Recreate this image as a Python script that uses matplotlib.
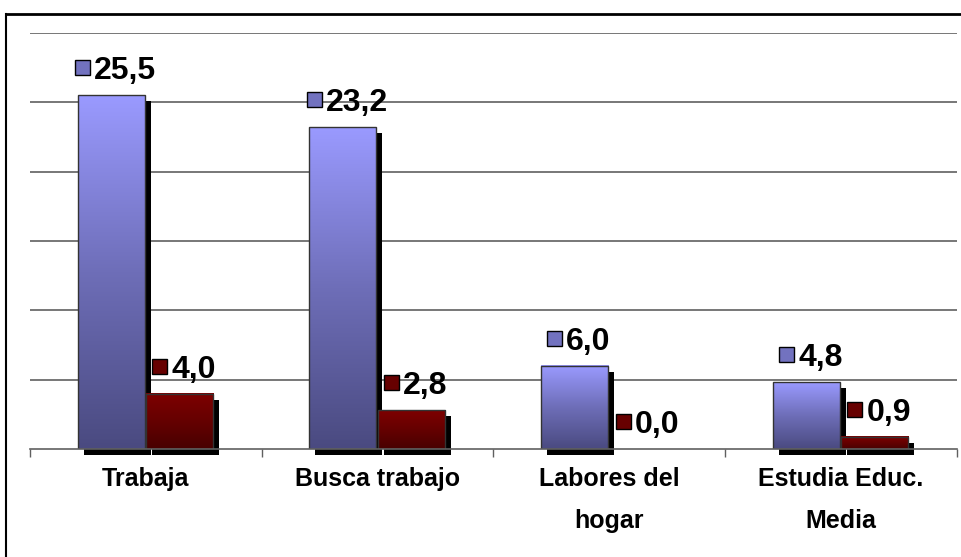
import numpy as np
import matplotlib
matplotlib.use("Agg")
import matplotlib.pyplot as plt
import matplotlib.transforms as mtransforms
from matplotlib.patches import Rectangle
from matplotlib.colors import LinearSegmentedColormap

# data
categories = ["Trabaja", "Busca trabajo", "Labores del\nhogar", "Estudia Educ.\nMedia"]
serie_a = [25.5, 23.2, 6.0, 4.8]
serie_b = [4.0, 2.8, 0.0, 0.9]

blue_cmap = LinearSegmentedColormap.from_list("b", ["#4a4a80", "#6e6eb8", "#9a9aff"])
red_cmap = LinearSegmentedColormap.from_list("r", ["#480000", "#650000", "#7e0000"])

plt.rcParams['font.family'] = ['Liberation Sans', 'DejaVu Sans']

fig = plt.figure(figsize=(9.62, 5.57), dpi=100)
W, H = 962.0, 557.0

# outer frame (open on the right/bottom, like the cropped original)
fig.add_artist(plt.Line2D([6 / W, 6 / W], [0, 1 - 14 / H], color="black", lw=1.5,
                          transform=fig.transFigure))
fig.add_artist(plt.Line2D([6 / W, 1], [1 - 14 / H, 1 - 14 / H], color="black", lw=2,
                          transform=fig.transFigure))

ax = fig.add_axes([30 / W, 1 - 449 / H, 927 / W, 416 / H])
ax.set_xlim(-0.5, 3.5)
ax.set_ylim(0, 30)

for y in range(5, 31, 5):
    ax.axhline(y, color="#606060", lw=1.2, zorder=1)

shadow = ax.transData + mtransforms.ScaledTranslation(6 / 100, -6 / 100, fig.dpi_scale_trans)
grad = np.linspace(0, 1, 256).reshape(-1, 1)

w = 0.29
x = np.arange(len(categories))
labels = []


def draw_bar(xc, h, cmap):
    if h <= 0:
        return
    x0, x1 = xc - w / 2, xc + w / 2
    sh = Rectangle((x0, 0), w, h, facecolor="black", edgecolor="none",
                   transform=shadow, zorder=2, clip_on=False)
    ax.add_patch(sh)
    ax.imshow(grad, cmap=cmap, extent=[x0, x1, 0, h], origin="lower",
              aspect="auto", zorder=3, interpolation="bicubic")
    ax.add_patch(Rectangle((x0, 0), w, h, facecolor="none", edgecolor="#333333",
                           lw=1, zorder=4))


def draw_label(xc, h, txt, cmap):
    t = ax.text(xc, h, txt, transform=mtransforms.offset_copy(ax.transData, fig=fig,
                x=14, y=24, units="dots"),
                ha="center", va="center", fontsize=23, fontweight="bold", zorder=7)
    labels.append((t, xc, h, cmap))


for i in range(len(categories)):
    xa = x[i] - w / 2 - 0.005
    xb = x[i] + w / 2
    draw_bar(xa, serie_a[i], blue_cmap)
    draw_bar(xb, serie_b[i], red_cmap)
    draw_label(xa, serie_a[i], f"{serie_a[i]:.1f}".replace(".", ","), blue_cmap)
    draw_label(xb, serie_b[i], f"{serie_b[i]:.1f}".replace(".", ","), red_cmap)

ax.set_xlim(-0.5, 3.5)
ax.set_ylim(0, 30)

for s in ["left", "right", "top"]:
    ax.spines[s].set_visible(False)
ax.spines["bottom"].set_color("#606060")
ax.spines["bottom"].set_linewidth(1.2)
ax.spines["bottom"].set_zorder(5)
ax.set_yticks([])
ax.set_xticks(np.arange(-0.5, 3.6, 1.0))
ax.set_xticklabels([])
ax.tick_params(axis="x", length=6, color="#606060", width=1)
ax.set_xticks(x, minor=True)
ax.set_xticklabels(categories, minor=True, fontsize=18, fontweight="bold",
                   linespacing=1.95, va="top")
ax.tick_params(axis="x", which="minor", length=0, pad=13)

# legend-key squares just left of each value label
fig.canvas.draw()
renderer = fig.canvas.get_renderer()
for t, xc, h, cmap in labels:
    bb = t.get_window_extent(renderer)
    px = bb.x0 - 12
    py = ax.transData.transform((xc, h))[1] + 27
    fig.add_artist(Rectangle((px - 7 + 1.5, py - 7 - 1.5), 15, 15, facecolor="white",
                             edgecolor="none", transform=None, zorder=6))
    fig.add_artist(Rectangle((px - 7, py - 7), 15, 15, facecolor=cmap(0.55),
                             edgecolor="black", lw=1, transform=None, zorder=7))

fig.savefig("out.png", dpi=100)
